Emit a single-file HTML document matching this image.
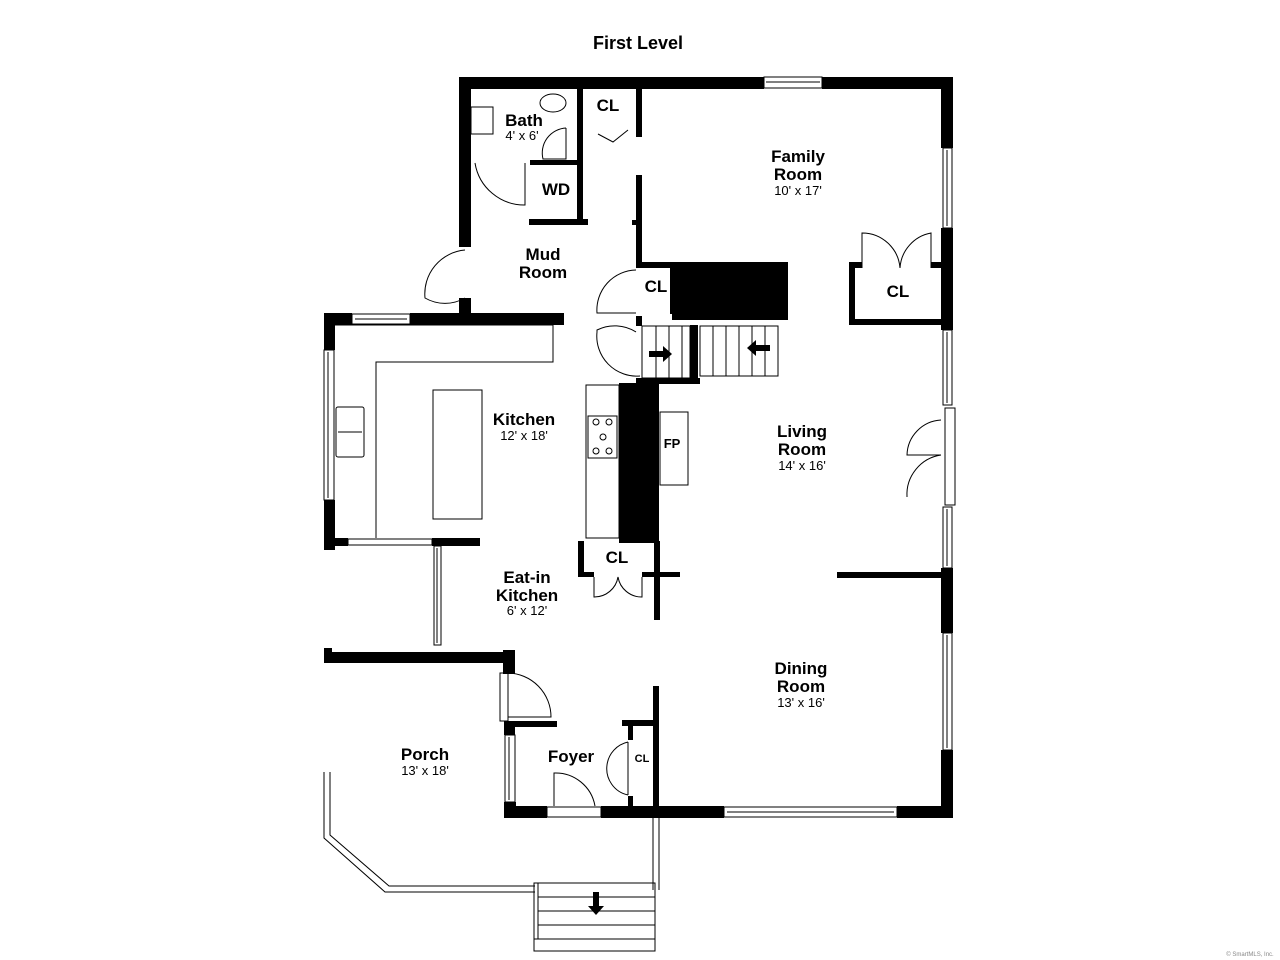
<!DOCTYPE html>
<html><head><meta charset="utf-8"><style>
body{margin:0;background:#fff}
svg{display:block}
text{font-family:"Liberation Sans",Arial,sans-serif;fill:#000;text-anchor:middle}
.b{font-weight:bold;font-size:17px}
.s{font-size:13px}
</style></head><body>
<svg width="1280" height="960" viewBox="0 0 1280 960">
<text x="638" y="49" class="b" style="font-size:18px">First Level</text>
<g fill="#000">
<!-- top wall -->
<rect x="459" y="77" width="305" height="12"/>
<rect x="822" y="77" width="131" height="12"/>
<!-- right wall -->
<rect x="941" y="77" width="12" height="71"/>
<rect x="941" y="228" width="12" height="102"/>
<rect x="941" y="568" width="12" height="65"/>
<rect x="941" y="750" width="12" height="68"/>
<!-- bath left -->
<rect x="459" y="77" width="12" height="170"/>
<rect x="459" y="298" width="12" height="27"/>
<!-- kitchen top -->
<rect x="324" y="313" width="28" height="12"/>
<rect x="410" y="313" width="154" height="12"/>
<rect x="324" y="313" width="11" height="37"/>
<rect x="324" y="500" width="11" height="50"/>
<rect x="324" y="538" width="24" height="8"/>
<rect x="432" y="538" width="48" height="8"/>
<!-- porch top -->
<rect x="324" y="648" width="8" height="14"/>
<rect x="324" y="652" width="191" height="11"/>
<rect x="503" y="650" width="12" height="24"/>
<!-- foyer -->
<rect x="504" y="721" width="11" height="14"/>
<rect x="515" y="721" width="42" height="6"/>
<rect x="504" y="802" width="12" height="16"/>
<rect x="504" y="806" width="43" height="12"/>
<rect x="601" y="806" width="123" height="12"/>
<rect x="897" y="806" width="56" height="12"/>
<rect x="653" y="686" width="6" height="122"/>
<rect x="622" y="720" width="35" height="6"/>
<rect x="628" y="720" width="5" height="20"/>
<rect x="628" y="796" width="5" height="12"/>
<!-- central chimney / walls -->
<rect x="619" y="383" width="40" height="160"/>
<rect x="636" y="378" width="64" height="6"/>
<rect x="690" y="325" width="8" height="58"/>
<rect x="578" y="541" width="6" height="36"/>
<rect x="578" y="572" width="16" height="5"/>
<rect x="642" y="572" width="38" height="5"/>
<rect x="654" y="541" width="6" height="79"/>
<!-- family room left wall -->
<rect x="636" y="89" width="6" height="48"/>
<rect x="636" y="175" width="6" height="93"/>
<rect x="632" y="220" width="6" height="5"/>
<rect x="636" y="262" width="36" height="6"/>
<rect x="670" y="262" width="118" height="58"/>
<rect x="642" y="314" width="30" height="10" fill="#fff"/>
<rect x="636" y="316" width="6" height="10"/>
<!-- bath walls -->
<rect x="577" y="89" width="6" height="133"/>
<rect x="529" y="219" width="59" height="6"/>
<rect x="530" y="160" width="47" height="5"/>
<!-- family CL -->
<rect x="849" y="262" width="6" height="63"/>
<rect x="849" y="319" width="92" height="6"/>
<rect x="849" y="262" width="13" height="6"/>
<rect x="931" y="262" width="10" height="6"/>
<!-- dining divider -->
<rect x="837" y="572" width="104" height="6"/>
</g>
<g fill="none" stroke="#000" stroke-width="1">
<!-- windows -->
<rect x="764" y="77" width="58" height="11" fill="#fff"/><line x1="766" y1="82" x2="820" y2="82"/>
<rect x="943" y="148" width="9" height="80"/><line x1="947" y1="150" x2="947" y2="226"/>
<rect x="943" y="330" width="9" height="75"/><line x1="947" y1="332" x2="947" y2="403"/>
<rect x="945" y="408" width="10" height="97"/>
<rect x="943" y="507" width="9" height="61"/><line x1="947" y1="509" x2="947" y2="566"/>
<rect x="943" y="633" width="9" height="117"/><line x1="947" y1="635" x2="947" y2="748"/>
<rect x="352" y="314" width="58" height="10"/><line x1="355" y1="319" x2="407" y2="319"/>
<rect x="324" y="350" width="10" height="150"/><line x1="328" y1="352" x2="328" y2="498"/>
<rect x="348" y="539" width="84" height="6"/>
<rect x="434" y="546" width="7" height="99"/><line x1="437" y1="548" x2="437" y2="643"/>
<rect x="505" y="735" width="10" height="67"/><line x1="509" y1="737" x2="509" y2="800"/>
<rect x="547" y="807" width="54" height="10"/>
<rect x="724" y="807" width="173" height="10"/><line x1="727" y1="812" x2="894" y2="812"/>
<!-- doors -->
<rect x="500" y="673" width="8" height="48"/>
<path d="M508 673 A44 44 0 0 1 551 717 L508 717"/>
<path d="M554 806 L554 773 A40 40 0 0 1 595 806"/>
<path d="M628 742 A27 27 0 0 0 607 765 A27 27 0 0 0 628 795"/>
<path d="M628 767 L628 742 M628 767 L628 795"/>
<path d="M594 577 L594 597 A24 24 0 0 0 618 577 A24 24 0 0 0 642 597 L642 577"/>
<path d="M862 268 L862 233 A38 38 0 0 1 900 268 A38 38 0 0 1 931 233 L931 268"/>
<path d="M941 420 A36 36 0 0 0 907 455 L941 455 M941 455 A40 40 0 0 0 907 497"/>
<path d="M465 298 A40 40 0 0 1 425 298 A44 44 0 0 1 465 250"/>
<path d="M475 163 A50 50 0 0 0 525 205 L525 163"/>
<path d="M636 270 A40 40 0 0 0 597 313 L636 313"/>
<path d="M636 332 A40 40 0 0 0 597 330 L597 332 A40 40 0 0 0 640 376"/>
<path d="M598 134 L613 142 L628 130"/>
<!-- stairs -->
<rect x="642" y="326" width="48" height="52"/>
<line x1="656" y1="326" x2="656" y2="378"/><line x1="669" y1="326" x2="669" y2="378"/><line x1="682" y1="326" x2="682" y2="378"/>
<rect x="700" y="326" width="78" height="50"/>
<line x1="713" y1="326" x2="713" y2="376"/><line x1="726" y1="326" x2="726" y2="376"/><line x1="739" y1="326" x2="739" y2="376"/><line x1="752" y1="326" x2="752" y2="376"/><line x1="765" y1="326" x2="765" y2="376"/>
<!-- kitchen counters -->
<path d="M335 325 L553 325 L553 362 L376 362 L376 538"/>
<rect x="433" y="390" width="49" height="129"/>
<rect x="586" y="385" width="33" height="153"/>
<rect x="588" y="416" width="29" height="42"/>
<circle cx="596" cy="422" r="3"/><circle cx="609" cy="422" r="3"/><circle cx="603" cy="437" r="3"/><circle cx="596" cy="451" r="3"/><circle cx="609" cy="451" r="3"/>
<rect x="336" y="407" width="28" height="50" rx="2"/><line x1="338" y1="432" x2="362" y2="432"/>
<rect x="660" y="412" width="28" height="73"/>
<!-- bath fixtures -->
<rect x="471" y="107" width="22" height="27"/>
<ellipse cx="553" cy="103" rx="13" ry="9"/>
<path d="M566 128 L566 159 L543 159 A25 25 0 0 1 566 128"/>
<!-- porch railings -->
<path d="M324 772 L324 838 L385 892 L535 892 M330 772 L330 835 L389 886 L535 886"/>
<path d="M653 818 L653 890 M659 818 L659 890"/>
<rect x="534" y="883" width="121" height="68"/>
<line x1="538" y1="897" x2="655" y2="897"/><line x1="538" y1="911" x2="655" y2="911"/><line x1="538" y1="925" x2="655" y2="925"/><line x1="534" y1="939" x2="655" y2="939"/>
<line x1="538" y1="883" x2="538" y2="939"/>
</g>
<g fill="#000">
<path d="M649 351 L663 351 L663 346 L672 354 L663 362 L663 357 L649 357Z"/>
<path d="M770 345 L756 345 L756 340 L747 348 L756 356 L756 351 L770 351Z"/>
<path d="M593 892 L599 892 L599 906 L604 906 L596 915 L588 906 L593 906Z"/>
</g>
<text x="524" y="126" class="b">Bath</text><text x="522" y="140" class="s">4' x 6'</text>
<text x="608" y="111" class="b">CL</text>
<text x="556" y="195" class="b">WD</text>
<text x="798" y="162" class="b">Family</text><text x="798" y="180" class="b">Room</text><text x="798" y="195" class="s">10' x 17'</text>
<text x="543" y="260" class="b">Mud</text><text x="543" y="278" class="b">Room</text>
<text x="656" y="292" class="b">CL</text>
<text x="898" y="297" class="b">CL</text>
<text x="524" y="425" class="b">Kitchen</text><text x="524" y="440" class="s">12' x 18'</text>
<text x="672" y="448" class="b" style="font-size:13px">FP</text>
<text x="802" y="437" class="b">Living</text><text x="802" y="455" class="b">Room</text><text x="802" y="470" class="s">14' x 16'</text>
<text x="617" y="563" class="b">CL</text>
<text x="527" y="583" class="b">Eat-in</text><text x="527" y="601" class="b">Kitchen</text><text x="527" y="615" class="s">6' x 12'</text>
<text x="801" y="674" class="b">Dining</text><text x="801" y="692" class="b">Room</text><text x="801" y="707" class="s">13' x 16'</text>
<text x="425" y="760" class="b">Porch</text><text x="425" y="775" class="s">13' x 18'</text>
<text x="571" y="762" class="b">Foyer</text>
<text x="642" y="762" class="b" style="font-size:11px">CL</text>
<text x="1250" y="956" style="font-size:6px;fill:#888">© SmartMLS, Inc.</text>
</svg>
</body></html>
